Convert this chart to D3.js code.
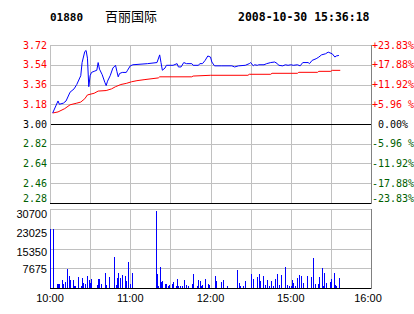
<!DOCTYPE html>
<html>
<head>
<meta charset="utf-8">
<script src="https://cdn.jsdelivr.net/npm/d3@7"></script>
<style>
  body { margin: 0; background: #fff; }
  text { font-family: "DejaVu Sans Mono", monospace; }
</style>
</head>
<body>
<div id="svganchor"></div>
<script>
let width = 414;
let height = 314;

// header
let stockCode = "01880";
let stockName = "百丽国际";
let stamp = "2008-10-30 15:36:18";

// price axis
let prevClose = 3.00;
let priceTicks = [3.72, 3.54, 3.36, 3.18, 3.00, 2.82, 2.64, 2.46, 2.28];
let pctTicks = ["+23.83%", "+17.88%", "+11.92%", "+5.96 %", "0.00%", "-5.96 %", "-11.92%", "-17.88%", "-23.83%"];

// time axis (minute index, 10:00-12:30 + 14:30-16:00)
let timeTicks = [0, 60, 120, 180, 240];
let timeLabels = ["10:00", "11:00", "12:00", "15:00", "16:00"];

// volume axis
let volTicks = [30700, 23025, 15350, 7675];

// price line (minute, price)
let priceMin = [2, 6, 7, 10, 12, 15, 18, 20, 23, 24, 26, 27, 28, 29, 30, 31, 33, 35, 36, 37, 39, 41, 42, 43, 45, 47, 49, 50, 51, 52, 54, 57, 58, 60, 62, 73, 80, 82, 83, 84, 86, 87, 92, 95, 96, 98, 100, 102, 106, 107, 111, 112, 114, 116, 118, 120, 121, 123, 128, 136, 138, 141, 146, 149, 150, 152, 153, 155, 156, 160, 162, 165, 168, 170, 171, 174, 176, 178, 180, 182, 185, 187, 189, 193, 194, 196, 199, 201, 203, 206, 208, 211, 213, 214, 216];
let priceVal = [3.10, 3.21, 3.18, 3.19, 3.21, 3.29, 3.32, 3.36, 3.44, 3.56, 3.66, 3.67, 3.60, 3.34, 3.44, 3.47, 3.48, 3.49, 3.56, 3.50, 3.45, 3.38, 3.35, 3.39, 3.44, 3.51, 3.535, 3.48, 3.43, 3.46, 3.47, 3.47, 3.49, 3.53, 3.54, 3.55, 3.56, 3.63, 3.56, 3.49, 3.51, 3.535, 3.535, 3.55, 3.52, 3.52, 3.56, 3.55, 3.55, 3.535, 3.535, 3.55, 3.55, 3.58, 3.62, 3.61, 3.565, 3.53, 3.53, 3.53, 3.52, 3.53, 3.535, 3.55, 3.56, 3.53, 3.54, 3.535, 3.54, 3.54, 3.55, 3.56, 3.565, 3.55, 3.535, 3.53, 3.54, 3.535, 3.54, 3.535, 3.54, 3.53, 3.56, 3.56, 3.55, 3.58, 3.595, 3.61, 3.63, 3.64, 3.655, 3.64, 3.61, 3.62, 3.625];

// average price line (minute, price)
let avgMin = [2, 6, 11, 15, 20, 23, 26, 28, 33, 36, 42, 46, 49, 53, 57, 61, 65, 71, 81, 82, 106, 107, 120, 148, 149, 165, 166, 185, 186, 200, 201, 210, 211, 217];
let avgVal = [3.10, 3.11, 3.14, 3.175, 3.19, 3.20, 3.23, 3.265, 3.28, 3.30, 3.305, 3.32, 3.34, 3.36, 3.37, 3.385, 3.395, 3.405, 3.42, 3.43, 3.43, 3.437, 3.444, 3.444, 3.453, 3.453, 3.462, 3.462, 3.471, 3.471, 3.48, 3.48, 3.489, 3.489];

// volume bars (minute, shares)
let volMin = [0, 2, 5, 6, 7, 9, 10, 11, 13, 14, 15, 17, 18, 19, 21, 23, 24, 25, 26, 28, 29, 30, 31, 35, 36, 37, 38, 41, 42, 44, 48, 49, 50, 51, 52, 54, 56, 57, 58, 60, 61, 79, 80, 81, 82, 83, 84, 86, 87, 88, 89, 91, 92, 94, 95, 96, 97, 99, 100, 102, 103, 106, 107, 110, 111, 112, 113, 114, 116, 118, 119, 123, 124, 128, 129, 132, 140, 141, 142, 144, 146, 150, 152, 155, 156, 157, 159, 161, 162, 164, 165, 167, 168, 170, 171, 173, 176, 177, 179, 180, 181, 182, 183, 185, 186, 188, 189, 192, 195, 197, 198, 200, 201, 203, 204, 205, 206, 209, 210, 212, 213, 214, 216];
let volVal = [23025, 23025, 1430, 1430, 1430, 3100, 1680, 2330, 7380, 4660, 3240, 3100, 780, 780, 4270, 780, 3890, 1940, 1550, 4660, 3100, 1940, 3500, 1160, 3500, 3500, 1550, 5830, 1160, 4270, 12040, 1160, 3890, 5830, 3890, 5050, 4660, 2720, 10100, 1550, 5830, 29900, 5440, 780, 8160, 2330, 2720, 1550, 1550, 780, 1160, 1550, 2330, 780, 3500, 780, 780, 780, 3100, 1160, 780, 1550, 5440, 780, 3100, 2720, 780, 1160, 3500, 1550, 1160, 4660, 2720, 2330, 3100, 780, 7000, 1940, 780, 780, 2720, 5440, 3500, 4270, 5440, 2720, 4660, 1160, 3100, 780, 2720, 780, 3500, 5440, 1160, 5050, 8160, 1160, 780, 780, 3100, 1940, 780, 3890, 5050, 4660, 1940, 4660, 4270, 11660, 1550, 1550, 4270, 7770, 780, 5830, 1940, 2330, 3500, 5830, 1160, 780, 3890];

let red = "#ff0000";
let green = "#006000";
let gridColor = "#c0c0c0";

let svg = d3.select("#svganchor").append("svg").attr("width", width).attr("height", height);

let xScale = d3.scaleLinear().domain([0, 240]).range([50, 371]);
let yScale = d3.scaleLinear().domain([2.28, 3.72]).range([203, 45]);
let vScale = d3.scaleLinear().domain([0, 30700]).range([288, 209]);

let px = v => Math.round(v) + 0.5;

// header
svg.append("text").attr("x", 50).attr("y", 21).attr("font-size", "11px").attr("font-weight", "bold").text(stockCode);
svg.append("text").attr("x", 105).attr("y", 21).attr("font-size", "13px")
  .style("font-family", "'Noto Sans CJK SC', sans-serif").text(stockName);
svg.append("text").attr("x", 238).attr("y", 21).attr("font-size", "11.5px").attr("font-weight", "bold").text(stamp);

// vertical grid, every half hour
let halfHours = d3.range(30, 240, 30);
[[45, 203], [209, 288]].forEach(function (r) {
  svg.append("g").selectAll("line").data(halfHours).enter().append("line")
    .attr("x1", d => px(xScale(d))).attr("x2", d => px(xScale(d)))
    .attr("y1", r[0]).attr("y2", r[1])
    .attr("stroke", gridColor);
});

// horizontal grid, price panel
svg.append("g").selectAll("line").data(priceTicks).enter().append("line")
  .attr("x1", xScale(0)).attr("x2", xScale(240))
  .attr("y1", d => px(yScale(d))).attr("y2", d => px(yScale(d)))
  .attr("stroke", d => (d === prevClose || d === priceTicks[priceTicks.length - 1]) ? "#000" : gridColor);

// horizontal grid, volume panel
svg.append("g").selectAll("line").data(volTicks.concat([0])).enter().append("line")
  .attr("x1", xScale(0)).attr("x2", xScale(240))
  .attr("y1", d => px(vScale(d))).attr("y2", d => px(vScale(d)))
  .attr("stroke", d => d === 0 ? "#000" : gridColor);

// panel edges
[[45, 203], [209, 288]].forEach(function (r) {
  svg.append("line").attr("x1", px(xScale(0))).attr("x2", px(xScale(0)))
    .attr("y1", r[0]).attr("y2", r[1]).attr("stroke", gridColor);
  svg.append("line").attr("x1", px(xScale(240))).attr("x2", px(xScale(240)))
    .attr("y1", r[0]).attr("y2", r[1] + 1).attr("stroke", "#808080");
});

// price axis labels (bottom one sits above its line)
function tickColor(i) {
  let v = priceTicks[i];
  return v > prevClose ? red : (v < prevClose ? green : "#000");
}
let lastTick = priceTicks.length - 1;
let labelY = (i) => yScale(priceTicks[i]) - (i === lastTick ? 5 : 0);

svg.append("g").selectAll("text").data(priceTicks).enter().append("text")
  .attr("x", 47).attr("y", (d, i) => labelY(i)).attr("dy", "0.36em")
  .attr("text-anchor", "end").attr("font-size", "10px")
  .attr("fill", (d, i) => tickColor(i))
  .text(d => d.toFixed(2));

svg.append("g").selectAll("text").data(pctTicks).enter().append("text")
  .attr("x", (d, i) => priceTicks[i] === prevClose ? 378 : 372)
  .attr("y", (d, i) => labelY(i)).attr("dy", "0.36em")
  .attr("font-size", "10px")
  .attr("fill", (d, i) => tickColor(i))
  .text(d => d);

// volume labels
let volLabelShift = [5, 4, 3.5, 1];
svg.append("g").selectAll("text").data(volTicks).enter().append("text")
  .attr("x", 47).attr("y", (d, i) => vScale(d) + volLabelShift[i]).attr("dy", "0.36em")
  .attr("text-anchor", "end").attr("font-size", "11px")
  .style("font-family", "'Liberation Sans', Arial, sans-serif")
  .text(d => d);

// time labels
svg.append("g").selectAll("text").data(timeTicks).enter().append("text")
  .attr("x", (d, i) => xScale(d) - (i === timeTicks.length - 1 ? 3 : 0)).attr("y", 302)
  .attr("text-anchor", "middle").attr("font-size", "11px")
  .style("font-family", "'Liberation Sans', Arial, sans-serif")
  .text((d, i) => timeLabels[i]);

// volume bars
svg.append("g").selectAll("rect").data(volMin).enter().append("rect")
  .attr("x", d => Math.round(xScale(d)))
  .attr("y", (d, i) => Math.round(vScale(volVal[i])))
  .attr("width", 1)
  .attr("height", (d, i) => 288 - Math.round(vScale(volVal[i])))
  .attr("fill", "#0000ff");

// average line
let line = d3.line().x(d => xScale(d[0])).y(d => yScale(d[1]));
svg.append("path").datum(d3.zip(avgMin, avgVal)).attr("d", line)
  .attr("fill", "none").attr("stroke", red).attr("stroke-width", 1);

// price line
svg.append("path").datum(d3.zip(priceMin, priceVal)).attr("d", line)
  .attr("fill", "none").attr("stroke", "#0000ff").attr("stroke-width", 1);
</script>
</body>
</html>
